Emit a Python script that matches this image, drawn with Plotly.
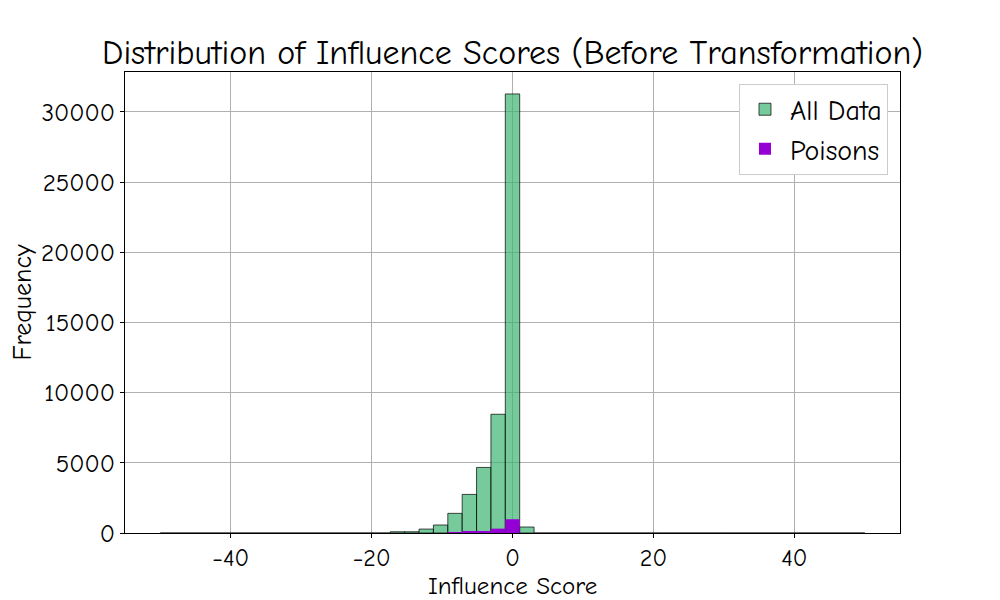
import numpy as np
import plotly.graph_objects as go

# Histogram bin edges (49 equal bins between -50 and 50)
bin_edges = np.linspace(-50, 50, 50)

# Counts per bin (index 0..48)
all_counts = [0] * 16 + [90, 90, 280, 570, 1400, 2750, 4670, 8460, 31280, 425] + [0] * 23
poison_counts = [0] * 20 + [50, 90, 140, 310, 980, 0] + [0] * 23

x_ticks = [-40, -20, 0, 20, 40]
y_ticks = [0, 5000, 10000, 15000, 20000, 25000, 30000]

centers = (bin_edges[:-1] + bin_edges[1:]) / 2
widths = np.diff(bin_edges)

FONT = "Comic Sans MS, Comic Neue, Lato, sans-serif"

# page has an 8px body margin; figure sized to fit the 1000x600 window
W, H = 992, 592
MT, MB = 64, 66.5
plot_h = H - MT - MB

fig = go.Figure()
fig.add_trace(go.Bar(
    x=centers, y=all_counts, width=widths, name="All Data",
    marker=dict(color="rgba(60,179,113,0.7)", line=dict(color="rgba(0,0,0,0.7)", width=1)),
))
fig.add_trace(go.Bar(
    x=centers, y=poison_counts, width=widths, name="Poisons",
    marker=dict(color="#9400D3", line=dict(width=0)),
))

fig.update_layout(
    width=W, height=H,
    barmode="overlay",
    plot_bgcolor="white", paper_bgcolor="white",
    margin=dict(l=117, r=100, t=MT, b=MB),
    font=dict(family=FONT, color="black"),
    title=dict(text="Distribution of Influence Scores (Before Transformation)",
               x=0.5, xref="paper", xanchor="center",
               y=1 - 44 / H, yref="container", yanchor="middle",
               font=dict(size=34, family=FONT, color="black")),
    legend=dict(x=0.9845, y=0.975, xanchor="right", yanchor="top",
                bgcolor="white", bordercolor="#cccccc", borderwidth=1,
                font=dict(size=28, family=FONT), traceorder="normal",
                itemwidth=40),
    showlegend=True,
    annotations=[dict(text="Influence Score", xref="paper", yref="paper",
                      x=0.5, y=-(586 - 8 - (H - MB)) / plot_h,
                      xanchor="center", yanchor="middle", showarrow=False,
                      font=dict(size=25, family=FONT, color="black"))],
)
fig.update_xaxes(
    range=[-55, 55], tickvals=x_ticks, ticks="outside", ticklen=4, tickcolor="black",
    showgrid=True, gridcolor="#b0b0b0", gridwidth=1, zeroline=False,
    showline=True, linecolor="black", linewidth=1, mirror=True,
    tickfont=dict(size=24, family=FONT), layer="above traces",
    ticklabelstandoff=-1,
    automargin=False,
)
fig.update_yaxes(
    range=[0, 32844], tickvals=y_ticks, tickformat="d", ticks="outside", ticklen=4, tickcolor="black",
    showgrid=True, gridcolor="#b0b0b0", gridwidth=1, zeroline=False,
    showline=True, linecolor="black", linewidth=1, mirror=True,
    tickfont=dict(size=25, family=FONT), layer="above traces",
    title=dict(text="Frequency", font=dict(size=26, family=FONT), standoff=6),
    automargin=False,
)

fig.write_html("out.html")
